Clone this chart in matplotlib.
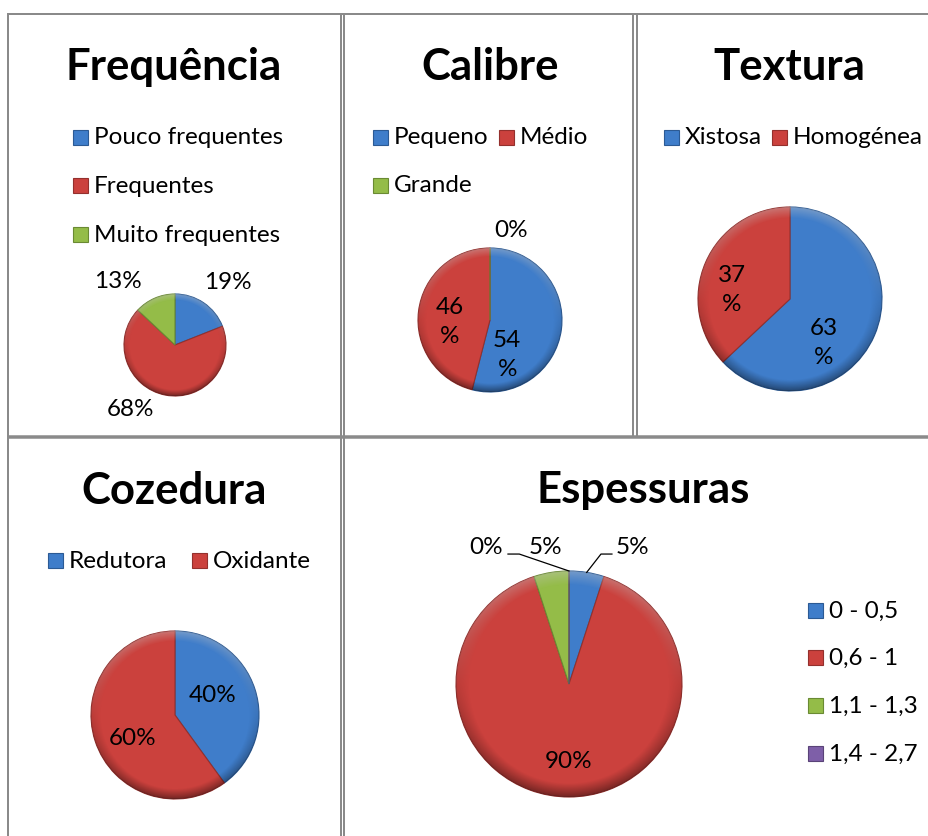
import matplotlib
matplotlib.use("Agg")
import matplotlib.pyplot as plt
from matplotlib.lines import Line2D
from matplotlib.patches import Rectangle, Circle
import numpy as np

W, H = 929, 836
plt.rcParams['font.family'] = ['Lato', 'DejaVu Sans']

# ---------------- data ----------------
freq_title = "Frequência"
freq_labels = ["Pouco frequentes", "Frequentes", "Muito frequentes"]
freq_values = [19, 68, 13]

cal_title = "Calibre"
cal_labels = ["Pequeno", "Médio", "Grande"]
cal_values = [54, 46, 0]

tex_title = "Textura"
tex_labels = ["Xistosa", "Homogénea"]
tex_values = [63, 37]

coz_title = "Cozedura"
coz_labels = ["Redutora", "Oxidante"]
coz_values = [40, 60]

esp_title = "Espessuras"
esp_labels = ["0 - 0,5", "0,6 - 1", "1,1 - 1,3", "1,4 - 2,7"]
esp_values = [5, 90, 5, 0]

# ---------------- style ----------------
COLORS = ["#3F7DCA", "#CB413D", "#94BC48", "#7E5FA8"]
EDGE = ["#2c5a94", "#94302d", "#6a8a33", "#5a4378"]
BORDER = "#8a8a8a"
TITLE_FS = 31.5
TEXT_FS = 17.5

fig = plt.figure(figsize=(W / 100, H / 100), dpi=100)
fig.patch.set_facecolor("white")


def fx(x):
    return x / W


def fy(y):
    return 1 - y / H


def hline(y, x0, x1, lw=2.0):
    fig.add_artist(Line2D([fx(x0), fx(x1)], [fy(y), fy(y)], color=BORDER,
                          lw=lw * 0.72, solid_capstyle="butt"))


def vline(x, y0, y1, lw=2.0):
    fig.add_artist(Line2D([fx(x), fx(x)], [fy(y0), fy(y1)], color=BORDER,
                          lw=lw * 0.72, solid_capstyle="butt"))


# table borders
hline(14, 7, 929)
hline(437, 7, 929, lw=3.5)
vline(8, 13, 836)
vline(341, 13, 836)
vline(344.5, 13, 836)
vline(633.5, 13, 437)
vline(636.5, 13, 437)


def title(text, cx, baseline):
    fig.text(fx(cx), fy(baseline), text, ha="center", va="baseline",
             fontsize=TITLE_FS, fontweight="bold", color="black")


def legend_entry(label, color, edge, mx, my, size=15):
    fig.add_artist(Rectangle((fx(mx), fy(my + size / 2)), size / W, size / H,
                             transform=fig.transFigure, facecolor=color,
                             edgecolor=edge, lw=0.8))
    fig.text(fx(mx + size + 6), fy(my + 7.5), label, ha="left",
             va="baseline", fontsize=TEXT_FS, color="black")


def pie(values, cx, cy, r, label_pos, wrap=False):
    ax = fig.add_axes([fx(cx - r), fy(cy + r), 2 * r / W, 2 * r / H])
    wedges, _ = ax.pie(values, colors=COLORS[:len(values)], startangle=90,
                       counterclock=False, radius=1,
                       wedgeprops=dict(linewidth=0.8))
    for w, e in zip(wedges, EDGE):
        w.set_edgecolor(e)
    # subtle bevel shading
    n = 300
    g = np.linspace(-1, 1, n)
    X, Y = np.meshgrid(g, g)
    R = np.sqrt(X ** 2 + Y ** 2)
    rgba = np.zeros((n, n, 4))
    rim = np.clip((R - 0.88) / 0.12, 0, 1)
    shade = np.clip(-Y, 0, 1) * rim * 0.35 + rim * 0.08
    light = np.clip(Y, 0, 1) * rim * 0.30
    rgba[..., :3] = (light / np.maximum(light + shade, 1e-6))[..., None]
    rgba[..., 3] = np.clip(light + shade, 0, 1)
    im = ax.imshow(rgba, extent=(-1, 1, -1, 1), origin="lower", zorder=3,
                   interpolation="bilinear")
    im.set_clip_path(Circle((0, 0), 1, transform=ax.transData))
    ax.set_xlim(-1, 1)
    ax.set_ylim(-1, 1)
    ax.set_aspect("equal")
    ax.axis("off")
    for v, (lx, ly) in zip(values, label_pos):
        if lx is None:
            continue
        s = f"{v}\n%" if wrap else f"{v}%"
        ax.text(lx, ly, s, ha="center", va="center", fontsize=TEXT_FS,
                linespacing=1.45, zorder=5, clip_on=False)
    return ax, wedges


# ---- Frequência ----
title(freq_title, 174, 80)
for i, lab in enumerate(freq_labels):
    legend_entry(lab, COLORS[i], EDGE[i], 73, 137 + 48.5 * i)
pie(freq_values, 175, 345, 51,
    [(1.04, 1.22), (-0.88, -1.27), (-1.12, 1.25)])

# ---- Calibre ----
title(cal_title, 490, 80)
cal_leg = [(373, 137), (499, 137), (373, 185)]
for i, lab in enumerate(cal_labels):
    legend_entry(lab, COLORS[i], EDGE[i], *cal_leg[i])
ax_c, _ = pie(cal_values, 490, 320, 72,
              [(0.24, -0.49), (-0.56, -0.03), (None, None)], wrap=True)
ax_c.text(0.29, 1.24, f"{cal_values[2]}%", ha="center", va="center",
          fontsize=TEXT_FS, clip_on=False)

# ---- Textura ----
title(tex_title, 789, 80)
tex_leg = [(664, 137), (772, 137)]
for i, lab in enumerate(tex_labels):
    legend_entry(lab, COLORS[i], EDGE[i], *tex_leg[i])
pie(tex_values, 790, 299, 92, [(0.37, -0.48), (-0.63, 0.10)], wrap=True)

# ---- Cozedura ----
title(coz_title, 174, 504)
coz_leg = [(48, 560), (192, 560)]
for i, lab in enumerate(coz_labels):
    legend_entry(lab, COLORS[i], EDGE[i], *coz_leg[i])
pie(coz_values, 175, 715, 84, [(0.45, 0.23), (-0.50, -0.28)])

# ---- Espessuras ----
title(esp_title, 643, 503)
for i, lab in enumerate(esp_labels):
    legend_entry(lab, COLORS[i], EDGE[i], 808, 610 + 47.7 * i)
ax_e, wedges_e = pie(esp_values, 569, 684, 113,
                     [(0.56, 1.21), (0.0, -0.69), (-0.21, 1.21), (-0.73, 1.21)])
# leader lines for the blue and purple labels
for idx, elbow, end in [(0, (0.283, 1.15), (0.38, 1.15)),
                        (3, (-0.44, 1.15), (-0.54, 1.15))]:
    w = wedges_e[idx]
    mid = np.deg2rad((w.theta1 + w.theta2) / 2)
    sx, sy = np.cos(mid), np.sin(mid)
    ax_e.plot([sx, elbow[0], end[0]], [sy, elbow[1], end[1]], color="black",
              lw=0.9, clip_on=False, zorder=6)

fig.savefig("out.png", dpi=100, facecolor="white")
